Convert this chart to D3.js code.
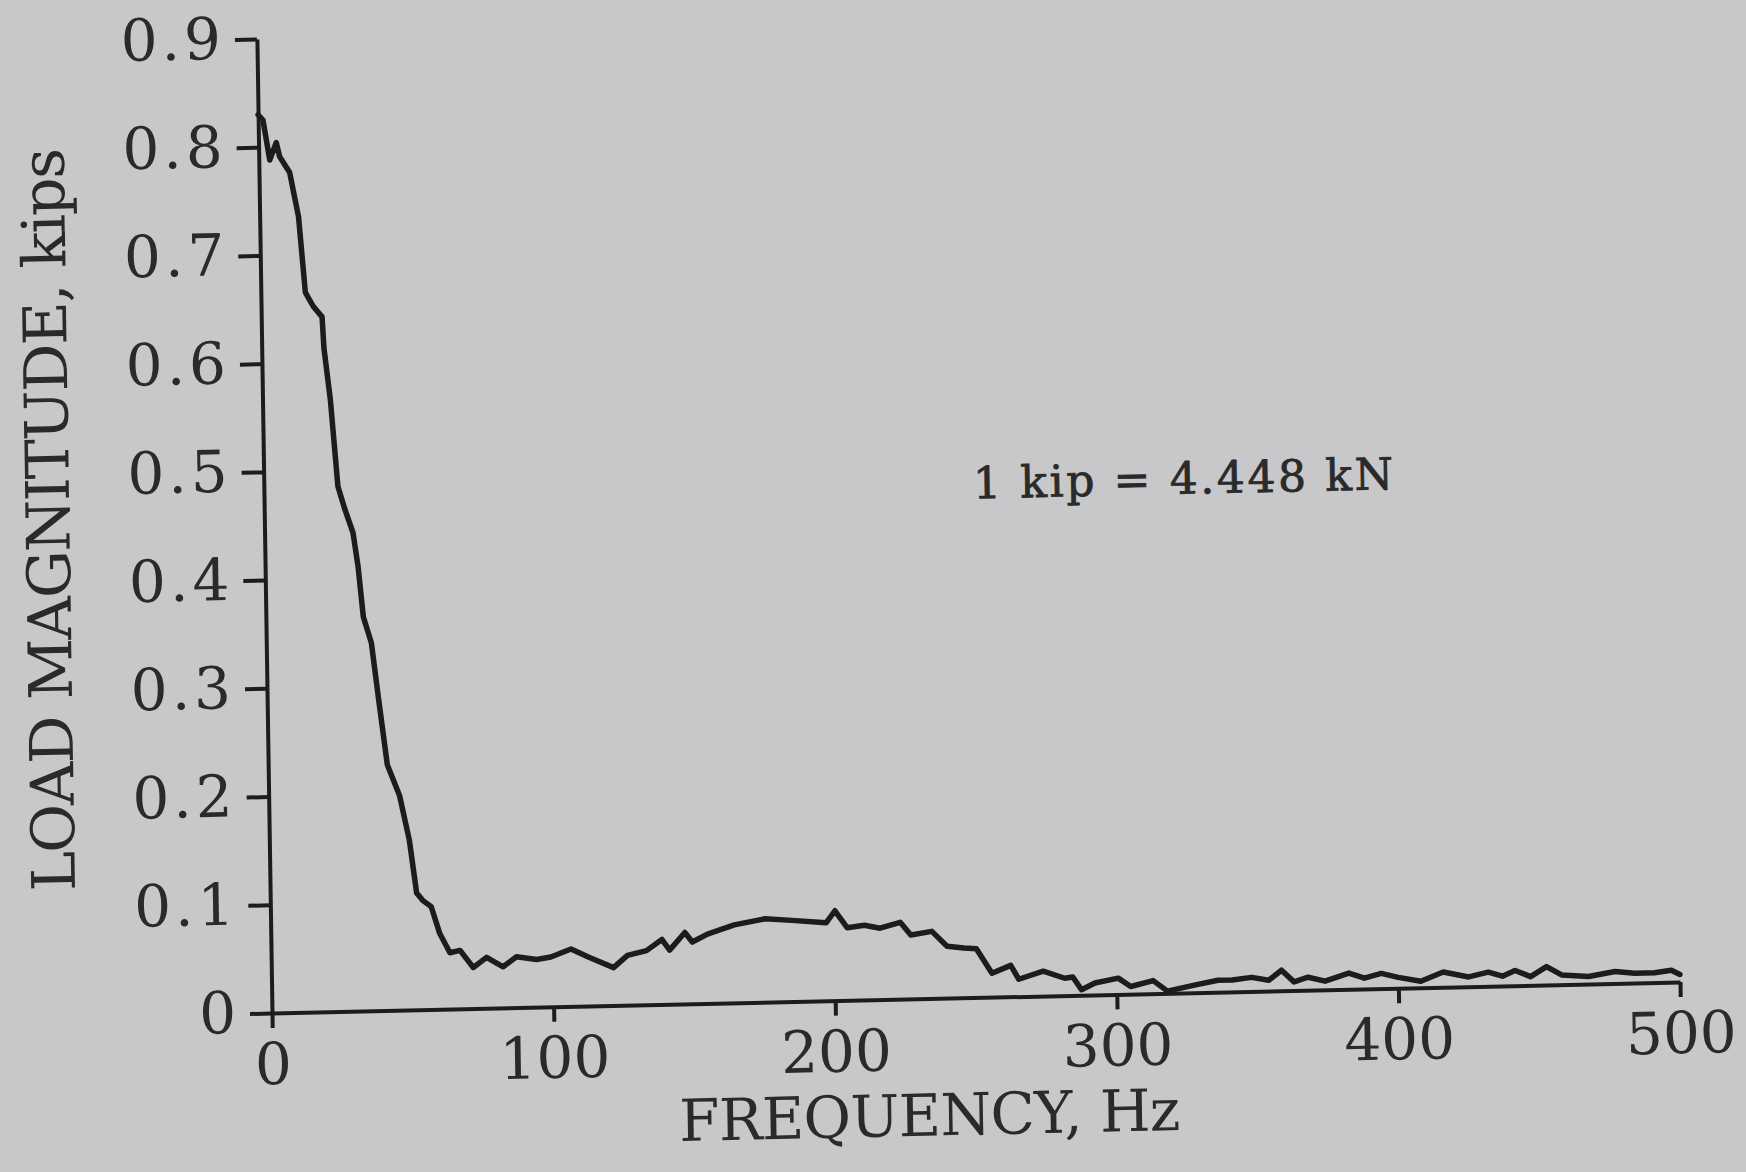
<!DOCTYPE html>
<html>
<head>
<meta charset="utf-8">
<script src="https://cdn.jsdelivr.net/npm/d3@7"></script>
<style>
  html, body { margin: 0; padding: 0; background: #c8c8cb; }
  svg { display: block; }
  text { font-family: "DejaVu Serif", serif; fill: #2a2a2a; }
</style>
</head>
<body>
<svg id="chart"></svg>
<script>
// values
const freq = [0, 1.7, 3.9, 6.3, 7.4, 10.9, 13.8, 15.8, 18.5, 21.6, 22.1, 24.1, 26.3, 28.5, 31.4, 33.0, 34.6, 37.3, 39.6, 42.3,
  46.5, 49.7, 52.0, 54.1, 57.1, 60.0, 63.5, 67.1, 71.7, 76.5, 82.3, 87.1, 94.2, 99.3, 106.5, 112.8, 121.5, 126.5, 133.3, 138.8,
  141.5, 147.0, 149.6, 155.0, 164.6, 175.5, 185.0, 197.2, 200.4, 204.7, 210.8, 216.3, 223.5, 227.2, 234.7, 240.0, 246.0, 250.4,
  255.8, 262.5, 265.3, 274.0, 281.6, 284.5, 287.5, 292.3, 300.6, 305.0, 313.0, 318.0, 327.6, 336.0, 341.0, 348.0, 354.0, 358.6,
  363.0, 368.0, 374.0, 382.5, 388.0, 394.0, 400.0, 408.0, 416.0, 425.0, 432.0, 437.0, 441.5, 447.0, 452.7, 458.0, 467.6, 477.0,
  484.0, 491.0, 497.0, 500.0];
const load = [0.830, 0.825, 0.788, 0.804, 0.791, 0.776, 0.735, 0.665, 0.652, 0.642, 0.613, 0.565, 0.485, 0.465, 0.442, 0.411,
  0.364, 0.340, 0.287, 0.227, 0.198, 0.157, 0.108, 0.101, 0.095, 0.070, 0.052, 0.054, 0.038, 0.047, 0.038, 0.047, 0.044, 0.046,
  0.053, 0.045, 0.035, 0.046, 0.050, 0.060, 0.050, 0.066, 0.057, 0.064, 0.072, 0.077, 0.075, 0.072, 0.083, 0.067, 0.069, 0.066,
  0.071, 0.059, 0.062, 0.048, 0.046, 0.045, 0.022, 0.029, 0.016, 0.023, 0.016, 0.017, 0.005, 0.011, 0.015, 0.007, 0.012, 0.002,
  0.007, 0.011, 0.011, 0.013, 0.010, 0.019, 0.008, 0.012, 0.008, 0.015, 0.010, 0.014, 0.010, 0.006, 0.014, 0.009, 0.013, 0.009,
  0.014, 0.008, 0.017, 0.009, 0.007, 0.011, 0.009, 0.009, 0.011, 0.007];

const xTicks = [0, 100, 200, 300, 400, 500];
const yTicks = [0, 0.1, 0.2, 0.3, 0.4, 0.5, 0.6, 0.7, 0.8, 0.9];
const yTickLabels = ["0", "0.1", "0.2", "0.3", "0.4", "0.5", "0.6", "0.7", "0.8", "0.9"];

const xTitle = "FREQUENCY, Hz";
const yTitle = "LOAD MAGNITUDE, kips";
const note = "1 kip = 4.448 kN";

const width = 1746, height = 1172;
const plotW = 1408, plotH = 974;
const ink = "#1c1c1c";

const svg = d3.select("#chart")
  .attr("width", width)
  .attr("height", height);

svg.append("rect")
  .attr("width", width)
  .attr("height", height)
  .attr("fill", "#c8c8cb");

const x = d3.scaleLinear().domain([0, 500]).range([0, plotW]);
const y = d3.scaleLinear().domain([0, 0.9]).range([0, -plotH]);

// the scanned page sits a little crooked, so the whole figure gets a small skew
const g = svg.append("g")
  .attr("transform", "matrix(1,-0.022,0.0155,1,272,1013)");

// x axis
const xAxis = g.append("g")
  .attr("color", ink)
  .call(d3.axisBottom(x)
    .tickValues(xTicks)
    .tickSize(15)
    .tickSizeOuter(0)
    .tickPadding(15));
xAxis.select(".domain").attr("stroke-width", 4);
xAxis.selectAll(".tick line").attr("stroke-width", 4);
xAxis.selectAll(".tick text")
  .attr("font-size", 58)
  .attr("font-family", "DejaVu Serif");

// y axis
const yAxis = g.append("g")
  .attr("color", ink)
  .call(d3.axisLeft(y)
    .tickValues(yTicks)
    .tickFormat((d, i) => yTickLabels[i])
    .tickSize(22)
    .tickSizeOuter(0)
    .tickPadding(10));
yAxis.select(".domain").attr("stroke-width", 4);
yAxis.selectAll(".tick line").attr("stroke-width", 4);
yAxis.selectAll(".tick text")
  .attr("font-size", 58)
  .attr("letter-spacing", 4)
  .attr("font-family", "DejaVu Serif");

// curve
const line = d3.line()
  .x(d => x(d[0]))
  .y(d => y(d[1]));

g.append("path")
  .datum(d3.zip(freq, load))
  .attr("d", line)
  .attr("fill", "none")
  .attr("stroke", ink)
  .attr("stroke-width", 5.5)
  .attr("stroke-linejoin", "round")
  .attr("stroke-linecap", "round");

// titles
g.append("text")
  .attr("x", 656)
  .attr("y", 137)
  .attr("text-anchor", "middle")
  .attr("font-size", 58)
  .attr("textLength", 501)
  .attr("lengthAdjust", "spacing")
  .text(xTitle);

g.append("text")
  .attr("transform", "translate(-195,-498) rotate(-90)")
  .attr("text-anchor", "middle")
  .attr("font-size", 60)
  .attr("textLength", 743)
  .attr("lengthAdjust", "spacing")
  .text(yTitle);

g.append("text")
  .attr("x", 919)
  .attr("y", -499)
  .attr("text-anchor", "middle")
  .attr("font-size", 44)
  .attr("textLength", 420)
  .attr("lengthAdjust", "spacing")
  .attr("stroke", "#2a2a2a")
  .attr("stroke-width", 0.8)
  .text(note);
</script>
</body>
</html>
